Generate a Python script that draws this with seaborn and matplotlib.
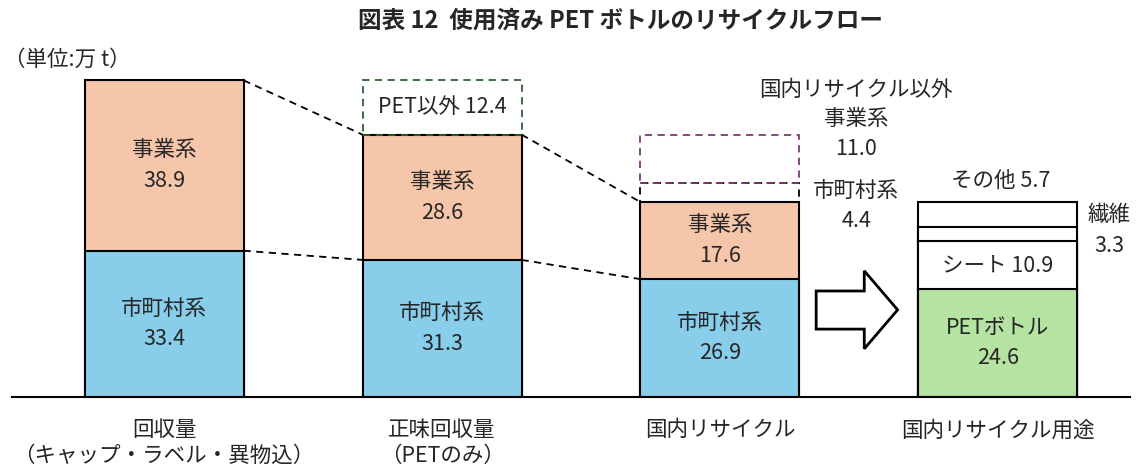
import matplotlib
matplotlib.use("Agg")
import matplotlib.pyplot as plt
import matplotlib.patches as mpatches
import seaborn as sns

# ============================================================
# Data (万 t)
# ============================================================

categories = ["回収量\n（キャップ・ラベル・異物込）", "正味回収量\n（PETのみ）",
              "国内リサイクル", "国内リサイクル用途"]

municipal = [33.4, 31.3, 26.9]      # 市町村系
business = [38.9, 28.6, 17.6]       # 事業系
non_pet = 12.4                      # PET以外
export_municipal = 4.4              # 国内リサイクル以外 市町村系
export_business = 11.0              # 国内リサイクル以外 事業系

use_labels = ["PETボトル", "シート", "繊維", "その他"]
use_values = [24.6, 10.9, 3.3, 5.7]

# ============================================================
# Style
# ============================================================

sns.set_theme(style="white")
plt.rcParams["font.family"] = ["Noto Sans CJK JP", "DejaVu Sans"]

BLUE = "#88CDEA"
SALMON = "#F5C6AA"
GREEN = "#B4E3A2"
DASH_GREEN = "#2F5F2F"
DASH_PURPLE = "#7A3A75"
W = 0.572
FS = 15.5

fig = plt.figure(figsize=(11.37, 4.68), dpi=100)
ax = fig.add_axes([12 / 1137, 71 / 468, 1118 / 1137, 357 / 468])

totals = [m + b for m, b in zip(municipal, business)]
use_cum = [sum(use_values[:i + 1]) for i in range(len(use_values))]

bar_kw = dict(order=categories, width=W, edgecolor="black", linewidth=1.5,
              saturation=1, ax=ax)

# top layers first, lower segments painted over them
sns.barplot(x=categories, y=totals + [use_cum[3]], hue=categories,
            palette=[SALMON, SALMON, SALMON, "white"], dodge=False,
            legend=False, **bar_kw)
sns.barplot(x=categories, y=municipal + [use_cum[2]], hue=categories,
            palette=[BLUE, BLUE, BLUE, "white"], dodge=False,
            legend=False, **bar_kw)
sns.barplot(x=[categories[3]], y=[use_cum[1]], color="white", **bar_kw)
sns.barplot(x=[categories[3]], y=[use_cum[0]], color=GREEN, **bar_kw)

# dashed boxes
dash = (0, (4, 3))
ax.bar(1, non_pet, bottom=totals[1], width=W, fill=False,
       edgecolor=DASH_GREEN, linestyle=dash, linewidth=1.3)
ax.bar(2, export_municipal, bottom=totals[2], width=W, fill=False,
       edgecolor="black", linestyle=dash, linewidth=1.3)
ax.bar(2, export_business, bottom=totals[2] + export_municipal, width=W,
       fill=False, edgecolor=DASH_PURPLE, linestyle=dash, linewidth=1.3)

# connecting dashed lines
for i in range(2):
    ax.plot([i + W / 2, i + 1 - W / 2], [totals[i], totals[i + 1]],
            color="black", linestyle=dash, linewidth=1.3)
    ax.plot([i + W / 2, i + 1 - W / 2], [municipal[i], municipal[i + 1]],
            color="black", linestyle=dash, linewidth=1.3)

# arrow between bar 3 and bar 4
x0 = 2 + W / 2 + 0.06
x1 = 3 - W / 2 - 0.075
xh = x0 + 0.173
arrow = mpatches.Polygon(
    [(x0, 15.5), (xh, 15.5), (xh, 11.0), (x1, 19.9),
     (xh, 28.8), (xh, 24.2), (x0, 24.2)],
    closed=True, facecolor="white", edgecolor="black", linewidth=2)
ax.add_patch(arrow)

# ============================================================
# Labels
# ============================================================

txt = dict(ha="center", va="center", fontsize=FS, linespacing=1.5)

for i in range(3):
    ax.text(i, municipal[i] / 2, f"市町村系\n{municipal[i]}", **txt)
    ax.text(i, municipal[i] + business[i] / 2, f"事業系\n{business[i]}", **txt)

ax.text(1, totals[1] + non_pet / 2, f"PET以外 {non_pet}", **txt)

ax.text(2.49, 70.1, "国内リサイクル以外", **txt)
ax.text(2.49, 60.0, f"事業系\n{export_business}", **txt)
ax.text(2.49, 43.6, f"市町村系\n{export_municipal}", **txt)

ax.text(3, use_cum[0] / 2, f"{use_labels[0]}\n{use_values[0]}", **txt)
ax.text(3, use_cum[0] + use_values[1] / 2, f"{use_labels[1]} {use_values[1]}", **txt)
ax.text(3.40, 38.0, f"{use_labels[2]}\n{use_values[2]}", **txt)
ax.text(3.01, use_cum[3] + 4.9, f"{use_labels[3]} {use_values[3]}", **txt)

fig.text(620 / 1137, 1 - 21 / 468,
         "図表 12  使用済み PET ボトルのリサイクルフロー",
         ha="center", va="center", fontsize=17, fontweight="bold")
fig.text(4 / 1137, 1 - 60 / 468, "（単位:万 t）",
         ha="left", va="center", fontsize=FS)

# ============================================================
# Axes
# ============================================================

ax.set_xlim(-0.547, 3.475)
ax.set_ylim(0, 81.5)
ax.set_xticks(range(4))
ax.set_xticklabels(categories, fontsize=FS, linespacing=1.2)
ax.tick_params(axis="x", length=0, pad=16)
ax.set_yticks([])
ax.set_xlabel("")
ax.set_ylabel("")
for side in ["left", "top", "right"]:
    ax.spines[side].set_visible(False)
ax.spines["bottom"].set_color("black")
ax.spines["bottom"].set_linewidth(1.5)

fig.savefig("out.png", dpi=100)
